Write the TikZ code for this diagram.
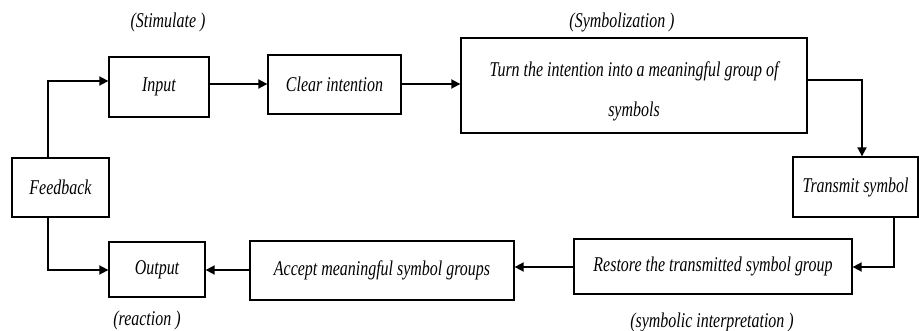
\documentclass[tikz,border=0pt]{standalone}
\usepackage{fontspec}
\setmainfont{Liberation Serif}[FakeStretch=0.76]
\usetikzlibrary{arrows.meta}
\tikzset{
  box/.style={draw, line width=1.3pt, rectangle, inner sep=0pt, font=\itshape\fontsize{21}{25}\selectfont},
  lbl/.style={inner sep=0pt, font=\itshape\fontsize{21}{25}\selectfont},
  arr/.style={line width=1.8pt, -{Triangle[length=9pt,width=9pt]}},
  link/.style={line width=1.8pt}
}
\begin{document}
\begin{tikzpicture}[x=1pt,y=-1pt]
\useasboundingbox (0,0) rectangle (919,331);
% process boxes
\node[box, minimum width=100, minimum height=60] (input) at (159,87) {Input};
\node[box, minimum width=133, minimum height=59] (clear) at (334.5,84.5) {Clear intention};
\node[box, minimum width=346, minimum height=95] (turn) at (634,85.5) {};
\node[lbl, align=center] (turntext) at (634,91) {Turn the intention into a meaningful group of\\[15pt]symbols};
\node[box, minimum width=125, minimum height=60] (transmit) at (855.5,187) {Transmit symbol};
\node[box, minimum width=278, minimum height=55] (restore) at (713,266.5) {Restore the transmitted symbol group};
\node[box, minimum width=264, minimum height=59] (accept) at (382,270.5) {Accept meaningful symbol groups};
\node[box, minimum width=96, minimum height=55] (output) at (157,269.5) {Output};
\node[box, minimum width=97, minimum height=59] (feedback) at (60.5,187.5) {Feedback};
% stage labels
\node[lbl] (stim) at (168,22) {(Stimulate )};
\node[lbl] (symb) at (622,22) {(Symbolization )};
\node[lbl] (react) at (147,320) {(reaction )};
\node[lbl] (interp) at (712,322) {(symbolic interpretation )};
% connectors
\draw[arr] (input.east |- 0,84) -- (clear.west |- 0,84);
\draw[arr] (clear.east |- 0,84) -- (turn.west |- 0,84);
\draw[arr] (turn.east |- 0,80) -| ([xshift=6.5pt]transmit.north);
\draw[arr] ([xshift=38.5pt]transmit.south) |- (restore.east |- 0,267);
\draw[arr] (restore.west |- 0,267) -- (accept.east |- 0,267);
\draw[arr] (accept.west |- 0,270) -- (output.east |- 0,270);
\draw[arr] ([xshift=-12.5pt]feedback.north) |- (input.west |- 0,81);
\draw[arr] ([xshift=-12.5pt]feedback.south) |- (output.west |- 0,270);
\end{tikzpicture}
\end{document}
